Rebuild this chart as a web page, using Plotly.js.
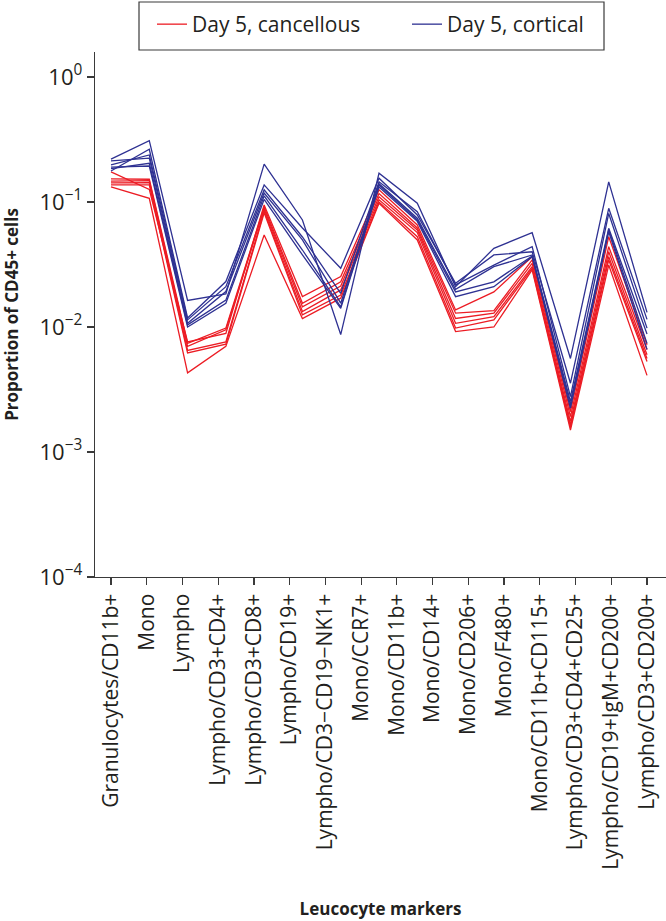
<!DOCTYPE html>
<html>
<head>
<meta charset="utf-8">
<script src="https://cdn.plot.ly/plotly-3.0.1.min.js"></script>
<style>html,body{margin:0;padding:0;background:#fff;}#chart{width:666px;height:921px;}</style>
</head>
<body>
<div id="chart"></div>
<script>
// Tick labels on the x axis (16 labels; the original figure draws 15 points per line spread across the same span)
const markerLabels = [
  "Granulocytes/CD11b+", "Mono", "Lympho", "Lympho/CD3+CD4+", "Lympho/CD3+CD8+",
  "Lympho/CD19+", "Lympho/CD3−CD19−NK1+", "Mono/CCR7+", "Mono/CD11b+", "Mono/CD14+",
  "Mono/CD206+", "Mono/F480+", "Mono/CD11b+CD115+", "Lympho/CD3+CD4+CD25+",
  "Lympho/CD19+IgM+CD200+", "Lympho/CD3+CD200+"
];

// Day 5, cancellous (red)
const cancellous1 = [0.174, 0.126, 0.0076, 0.0089, 0.0946, 0.0175, 0.0253, 0.125, 0.0655, 0.0137, 0.0191, 0.0365, 0.0021, 0.0528, 0.0072];
const cancellous2 = [0.153, 0.152, 0.0074, 0.0098, 0.0912, 0.0155, 0.0230, 0.117, 0.0620, 0.0129, 0.0135, 0.0344, 0.00192, 0.0439, 0.0066];
const cancellous3 = [0.147, 0.148, 0.0070, 0.0095, 0.0880, 0.0145, 0.0213, 0.110, 0.0597, 0.0117, 0.0129, 0.0323, 0.00175, 0.0400, 0.0060];
const cancellous4 = [0.142, 0.143, 0.0065, 0.0076, 0.0847, 0.0133, 0.0198, 0.104, 0.0570, 0.0107, 0.0121, 0.0304, 0.00164, 0.0365, 0.0056];
const cancellous5 = [0.137, 0.137, 0.0062, 0.0073, 0.0820, 0.0125, 0.0180, 0.100, 0.0528, 0.0098, 0.0114, 0.0295, 0.00158, 0.0344, 0.0053];
const cancellous6 = [0.132, 0.107, 0.0043, 0.0070, 0.0545, 0.0117, 0.0170, 0.0977, 0.0497, 0.0092, 0.0100, 0.0286, 0.0015, 0.0313, 0.0041];

// Day 5, cortical (blue)
const cortical1 = [0.220, 0.310, 0.0163, 0.0184, 0.201, 0.0718, 0.0087, 0.170, 0.0977, 0.0210, 0.0426, 0.0568, 0.0056, 0.145, 0.0131];
const cortical2 = [0.177, 0.264, 0.0118, 0.0231, 0.137, 0.0619, 0.0295, 0.155, 0.0787, 0.0224, 0.0377, 0.0400, 0.00355, 0.089, 0.0115];
const cortical3 = [0.198, 0.238, 0.0114, 0.0210, 0.125, 0.0525, 0.0186, 0.145, 0.0836, 0.0217, 0.0313, 0.0439, 0.00277, 0.081, 0.0098];
const cortical4 = [0.213, 0.224, 0.0107, 0.0192, 0.118, 0.0497, 0.0155, 0.140, 0.0741, 0.0200, 0.0304, 0.0377, 0.00253, 0.0616, 0.0088];
const cortical5 = [0.185, 0.204, 0.0104, 0.0164, 0.112, 0.0413, 0.0145, 0.137, 0.0718, 0.0191, 0.0230, 0.0370, 0.00238, 0.0600, 0.0074];
const cortical6 = [0.190, 0.194, 0.0100, 0.0155, 0.105, 0.0377, 0.0141, 0.132, 0.0700, 0.0175, 0.0210, 0.0365, 0.00224, 0.0578, 0.0066];

const yTickVals = [1e-4, 1e-3, 1e-2, 1e-1, 1];
const yTickText = ["10<sup>−4</sup>", "10<sup>−3</sup>", "10<sup>−2</sup>", "10<sup>−1</sup>", "10<sup>0</sup>"];

const RED = "#ec1c24";
const BLUE = "#2e3192";
const FONT = "Open Sans, sans-serif";

const nPts = cancellous1.length;           // 15 points per line
const pointIndex = Array.from({length: nPts}, (_, i) => i);
// label ticks spread evenly over the same span as the points
const tickPos = markerLabels.map((_, j) => j * (nPts - 1) / (markerLabels.length - 1));

function mk(y, name, color, show) {
  return {
    x: pointIndex, y: y, type: "scatter", mode: "lines",
    name: name, legendgroup: name, showlegend: show,
    line: {color: color, width: 1.3},
    hoverinfo: "skip"
  };
}

const traces = [
  mk(cancellous1, "Day 5, cancellous", RED, true),
  mk(cancellous2, "Day 5, cancellous", RED, false),
  mk(cancellous3, "Day 5, cancellous", RED, false),
  mk(cancellous4, "Day 5, cancellous", RED, false),
  mk(cancellous5, "Day 5, cancellous", RED, false),
  mk(cancellous6, "Day 5, cancellous", RED, false),
  mk(cortical1, "Day 5, cortical", BLUE, true),
  mk(cortical2, "Day 5, cortical", BLUE, false),
  mk(cortical3, "Day 5, cortical", BLUE, false),
  mk(cortical4, "Day 5, cortical", BLUE, false),
  mk(cortical5, "Day 5, cortical", BLUE, false),
  mk(cortical6, "Day 5, cortical", BLUE, false)
];

const L = 95, R = 0, T = 52, B = 344, W = 666, H = 921;
const pw = W - L - R, ph = H - T - B;
const px = v => (v - L) / pw;
const py = v => (H - B - v) / ph;

const layout = {
  width: W, height: H,
  margin: {l: L, r: R, t: T, b: B, pad: 0},
  paper_bgcolor: "#fff", plot_bgcolor: "#fff",
  font: {family: FONT, color: "#231f20", size: 20},
  showlegend: true,
  legend: {
    orientation: "h",
    x: px(152), xanchor: "left",
    y: py(4), yanchor: "top",
    bgcolor: "rgba(0,0,0,0)",
    borderwidth: 0,
    entrywidth: 210, entrywidthmode: "pixels",
    font: {family: FONT, size: 21, color: "#231f20"},
    traceorder: "normal"
  },
  shapes: [{
    type: "rect", xref: "paper", yref: "paper",
    x0: px(139), x1: px(604), y0: py(50), y1: py(2),
    line: {color: "#3a3a3a", width: 1.2}, fillcolor: "rgba(0,0,0,0)"
  }],
  xaxis: {
    type: "linear",
    range: [-0.418, 14.496],
    tickmode: "array", tickvals: tickPos, ticktext: markerLabels,
    tickangle: -90,
    ticks: "outside", ticklen: 7, tickwidth: 1.2, tickcolor: "#3a3a3a",
    showline: true, linecolor: "#3a3a3a", linewidth: 1.3,
    showgrid: false, zeroline: false,
    tickfont: {family: FONT, size: 21, color: "#231f20"},
    title: {text: "<b>Leucocyte markers</b>", font: {family: FONT, size: 17, color: "#231f20"}, standoff: 34},
    automargin: false
  },
  yaxis: {
    type: "log",
    range: [-4, 0.2],
    tickmode: "array", tickvals: yTickVals, ticktext: yTickText,
    ticks: "outside", ticklen: 7, tickwidth: 1.2, tickcolor: "#3a3a3a",
    showline: true, linecolor: "#3a3a3a", linewidth: 1.3,
    showgrid: false, zeroline: false,
    tickfont: {family: FONT, size: 22, color: "#231f20"},
    title: {text: "<b>Proportion of CD45+ cells</b>", font: {family: FONT, size: 17, color: "#231f20"}, standoff: 16},
    automargin: false
  }
};

Plotly.newPlot("chart", traces, layout, {displayModeBar: false, staticPlot: true});
</script>
</body>
</html>
